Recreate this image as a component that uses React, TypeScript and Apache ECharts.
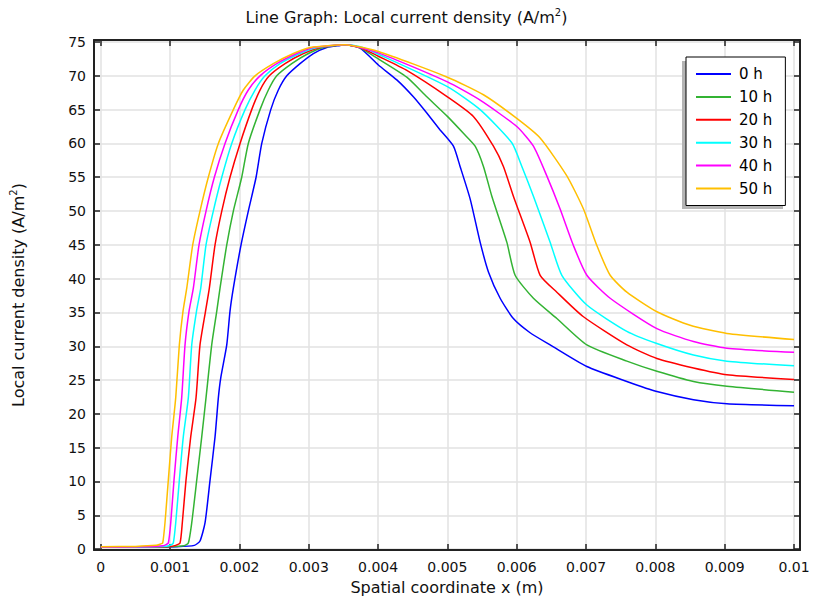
import React, { useEffect, useRef } from "react";
import * as echarts from "echarts";

const FONT = "DejaVu Sans";

const seriesNames = ["0 h", "10 h", "20 h", "30 h", "40 h", "50 h"];
const seriesColors = ["#0000ff", "#33b333", "#ff0000", "#00ffff", "#ff00ff", "#ffbf00"];

const xTicks = [0, 0.001, 0.002, 0.003, 0.004, 0.005, 0.006, 0.007, 0.008, 0.009, 0.01];
const yTicks = [0, 5, 10, 15, 20, 25, 30, 35, 40, 45, 50, 55, 60, 65, 70, 75];

const curve0h = [
  [0, 0.3], [0.0006, 0.3], [0.0011, 0.35], [0.00135, 0.55], [0.001431, 1.2], [0.001504, 3.9],
  [0.001576, 10.2], [0.001648, 16.6], [0.001696, 22.4], [0.00173, 25.3], [0.001817, 30.2],
  [0.001864, 35.2], [0.001912, 38.6], [0.002023, 45], [0.002128, 50], [0.00224, 55],
  [0.002322, 60], [0.002452, 65], [0.002561, 67.9], [0.002683, 70], [0.002874, 71.8],
  [0.003066, 73.3], [0.00326, 74.2], [0.003452, 74.5], [0.003524, 74.6], [0.003741, 74.1],
  [0.004004, 71.6], [0.00427, 69.4], [0.004509, 66.9], [0.004703, 64.5], [0.004895, 62],
  [0.005087, 59.6], [0.005183, 56.6], [0.005328, 51.8], [0.005472, 45.4], [0.005592, 41],
  [0.005761, 37.1], [0.005952, 34.1], [0.006193, 32], [0.006482, 30.2], [0.007011, 27],
  [0.007589, 24.8], [0.008022, 23.3], [0.00855, 22.1], [0.009032, 21.5], [0.01, 21.2],
];

const curve10h = [
  [0, 0.3], [0.0006, 0.3], [0.001, 0.35], [0.0012, 0.5], [0.001263, 0.9], [0.001312, 3.9],
  [0.001384, 10.2], [0.001456, 16.6], [0.001518, 22.4], [0.0016, 30.2], [0.001673, 35.2],
  [0.00172, 38.6], [0.001817, 45], [0.001912, 50], [0.002033, 55], [0.002128, 60],
  [0.002297, 65], [0.002417, 67.9], [0.002538, 70], [0.002755, 71.8], [0.002994, 73.3],
  [0.003211, 74.2], [0.003524, 74.6], [0.003741, 74.1], [0.004004, 72.5], [0.004414, 69.8],
  [0.004703, 66.9], [0.005, 64], [0.005231, 61.5], [0.0054, 59.6], [0.00552, 56.6],
  [0.005641, 52.2], [0.005857, 45.4], [0.005977, 40.5], [0.006241, 37.1],
  [0.006579, 34.1], [0.007012, 30.2], [0.007589, 27.8], [0.008022, 26.3], [0.00855, 24.8],
  [0.009032, 24.1], [0.01, 23.2],
];

const curve20h = [
  [0, 0.3], [0.0006, 0.3], [0.001, 0.38], [0.00108, 0.55], [0.001143, 0.9], [0.001176, 3.9],
  [0.001229, 10.2], [0.001297, 16.6], [0.001374, 22.4], [0.001431, 30.2], [0.001511, 35.2],
  [0.001566, 38.6], [0.001648, 45], [0.001745, 50], [0.001864, 55], [0.002009, 60],
  [0.002177, 65], [0.002297, 67.9], [0.002431, 70], [0.002658, 71.8], [0.002922, 73.3],
  [0.003163, 74.2], [0.003524, 74.6], [0.003741, 74.2], [0.004004, 72.9], [0.004414, 70.8],
  [0.005, 66.9], [0.005375, 64], [0.005664, 59.6], [0.005808, 56.6], [0.005952, 52.2],
  [0.006193, 45.4], [0.006338, 40.5], [0.006579, 38], [0.006958, 34.4],
  [0.007589, 30.2], [0.008022, 28.2], [0.00855, 26.8], [0.009032, 25.8], [0.01, 25.1],
];

const curve30h = [
  [0, 0.3], [0.0006, 0.32], [0.00095, 0.42], [0.00101, 0.6], [0.001046, 0.9], [0.001081, 3.9],
  [0.001133, 10.2], [0.00119, 16.6], [0.001263, 22.4], [0.001312, 30.2], [0.001381, 35.2],
  [0.001442, 38.6], [0.001518, 45], [0.001623, 50], [0.001745, 55], [0.001889, 60],
  [0.002081, 65], [0.002225, 67.9], [0.002369, 70], [0.002586, 71.8], [0.002874, 73.3],
  [0.00312, 74.2], [0.003524, 74.6], [0.003741, 74.3], [0.004004, 73.2], [0.005, 68.4],
  [0.005472, 65], [0.005929, 60.1], [0.006074, 56.6], [0.006241, 52.2],
  [0.006482, 45.4], [0.006651, 40.5], [0.007012, 36.1], [0.007589, 32.2], [0.008022, 30.4],
  [0.00855, 28.7], [0.009032, 27.8], [0.01, 27.1],
];

const curve40h = [
  [0, 0.3], [0.0006, 0.35], [0.0009, 0.5], [0.00094, 0.65], [0.000974, 0.9], [0.001009, 3.9],
  [0.001056, 10.2], [0.00111, 16.6], [0.001167, 22.4], [0.001215, 30.2], [0.001273, 35.2],
  [0.001335, 38.6], [0.001417, 45], [0.001518, 50], [0.001638, 55], [0.001792, 60],
  [0.001984, 65], [0.002128, 67.9], [0.002297, 70], [0.002538, 71.8], [0.002827, 73.3],
  [0.003062, 74.2], [0.003524, 74.6], [0.004004, 73.4], [0.005, 69.1], [0.005472, 66.4],
  [0.006001, 62.5], [0.006241, 59.6], [0.006434, 55.2], [0.006626, 50.3], [0.006818, 44.9],
  [0.007012, 40.5], [0.007348, 37.1], [0.008022, 32.6], [0.00855, 30.7], [0.009032, 29.7],
  [0.01, 29.1],
];

const curve50h = [
  [0, 0.35], [0.0005, 0.4], [0.0008, 0.55], [0.00086, 0.75], [0.000893, 0.9], [0.000926, 3.9],
  [0.000974, 10.2], [0.001023, 16.6], [0.001081, 22.4], [0.001133, 30.2], [0.001186, 35.2],
  [0.00124, 38.6], [0.001326, 45], [0.001431, 50], [0.001551, 55], [0.001696, 60],
  [0.001912, 65], [0.002056, 67.9], [0.002225, 70], [0.002489, 71.8], [0.002778, 73.3],
  [0.003019, 74.2], [0.003524, 74.6], [0.004004, 73.6], [0.005, 69.8], [0.00552, 67.2],
  [0.006001, 63.7], [0.006338, 60.8], [0.006723, 55.2], [0.006963, 50.3], [0.007156, 44.9],
  [0.007348, 40.5], [0.007589, 38], [0.008022, 35.1], [0.008502, 33.1], [0.009032, 31.9],
  [0.01, 31.0],
];

const curves = [curve0h, curve10h, curve20h, curve30h, curve40h, curve50h];

const fmtX = (v: number) => String(Number(v.toFixed(6)));

export default function App() {
  const ref = useRef<HTMLDivElement>(null);
  useEffect(() => {
    const chart = echarts.init(ref.current!, null, { renderer: "svg" });
    const axisLineStyle = { color: "#222", width: 2 };
    const tickStyle = { color: "#222", width: 1.5 };
    const xCommon = {
      type: "value",
      min: -0.0000981,
      max: 0.0100866,
    };
    const yCommon = {
      type: "value",
      min: -0.15,
      max: 75.3,
    };
    const richText = {
      a: { fontSize: 16, fontFamily: FONT, color: "#111", lineHeight: 20, fontWeight: "normal" },
      s: { fontSize: 10, fontFamily: FONT, color: "#111", lineHeight: 11, verticalAlign: "top", fontWeight: "normal" },
    };
    chart.setOption({
      animation: false,
      backgroundColor: "#fff",
      textStyle: { fontFamily: FONT },
      title: {
        text: "{a|Line Graph: Local current density (A/m}{s|2}{a|)}",
        left: "center",
        top: 2,
        textStyle: { fontWeight: "normal", rich: richText },
      },
      grid: { left: 94, right: 13, top: 40, bottom: 46 },
      xAxis: [
        {
          ...xCommon,
          position: "bottom",
          axisLine: { show: true, onZero: false, lineStyle: axisLineStyle },
          axisTick: { show: true, inside: true, length: 6, customValues: xTicks, lineStyle: tickStyle },
          axisLabel: {
            customValues: xTicks,
            formatter: fmtX,
            fontSize: 14,
            color: "#111",
            margin: 10,
            fontFamily: FONT,
          },
          splitLine: { show: true, lineStyle: { color: "#e2e2e2", width: 1.5 } },
          name: "Spatial coordinate x (m)",
          nameLocation: "middle",
          nameGap: 24,
          nameTextStyle: { fontSize: 16, color: "#111", fontFamily: FONT },
        },
        {
          ...xCommon,
          position: "top",
          axisLine: { show: true, onZero: false, lineStyle: axisLineStyle },
          axisTick: { show: true, inside: true, length: 6, customValues: xTicks, lineStyle: tickStyle },
          axisLabel: { show: false },
          splitLine: { show: false },
        },
      ],
      yAxis: [
        {
          ...yCommon,
          position: "left",
          axisLine: { show: true, onZero: false, lineStyle: axisLineStyle },
          axisTick: { show: true, inside: true, length: 6, customValues: yTicks, lineStyle: tickStyle },
          axisLabel: {
            customValues: yTicks,
            fontSize: 14,
            color: "#111",
            margin: 8,
            fontFamily: FONT,
          },
          splitLine: { show: true, lineStyle: { color: "#e2e2e2", width: 1.5 } },
          name: "{a|Local current density (A/m}{s|2}{a|)}",
          nameLocation: "middle",
          nameRotate: 90,
          nameGap: 66,
          nameTextStyle: { rich: richText },
        },
        {
          ...yCommon,
          position: "right",
          axisLine: { show: true, onZero: false, lineStyle: axisLineStyle },
          axisTick: { show: true, inside: true, length: 6, customValues: yTicks, lineStyle: tickStyle },
          axisLabel: { show: false },
          splitLine: { show: false },
        },
      ],
      legend: {
        orient: "vertical",
        left: 686,
        top: 57,
        icon: "rect",
        itemWidth: 35,
        itemHeight: 2,
        itemGap: 6.9,
        padding: [9, 13, 9, 10],
        backgroundColor: "#fff",
        borderColor: "#000",
        borderWidth: 1,
        z: 10,
        textStyle: { fontSize: 15, lineHeight: 16, color: "#000", fontFamily: FONT, padding: [0, 0, 0, 3] },
        data: seriesNames,
      },
      graphic: [
        {
          type: "rect",
          z: 5,
          shape: { x: 682, y: 61, width: 101, height: 148 },
          style: { fill: "#b4b4b4" },
        },
      ],
      series: curves.map((c, i) => ({
        name: seriesNames[i],
        type: "line",
        data: c,
        symbol: "none",
        smooth: 0.2,
        color: seriesColors[i],
        lineStyle: { width: 1.5, color: seriesColors[i] },
      })),
    });
    return () => chart.dispose();
  }, []);
  return <div ref={ref} style={{ position: "fixed", left: 0, top: 0, width: 813, height: 600 }} />;
}
